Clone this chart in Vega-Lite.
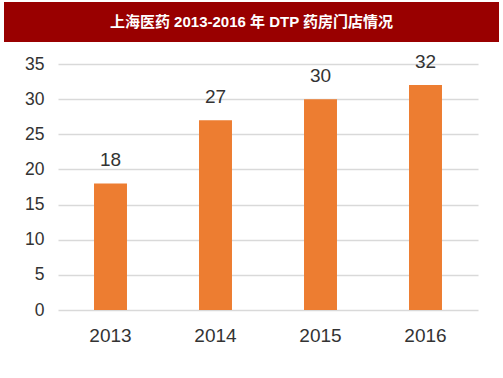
{
  "$schema": "https://vega.github.io/schema/vega-lite/v6.json",
  "padding": {"left": 4, "top": 2, "right": 4, "bottom": 5},
  "background": "white",
  "bounds": "flush",
  "spacing": 22,
  "config": {"view": {"stroke": null}, "font": "Liberation Sans"},
  "vconcat": [
    {
      "width": 495,
      "height": 40,
      "view": {"fill": "#990000", "stroke": null},
      "data": {"values": [{"t": "上海医药 2013-2016 年 DTP 药房门店情况"}]},
      "mark": {"type": "text", "color": "white", "fontSize": 15, "fontWeight": "bold", "font": "Liberation Sans, Noto Sans CJK SC", "align": "center", "baseline": "middle"},
      "encoding": {"text": {"field": "t"}}
    },
    {
      "bounds": "flush",
      "spacing": 10,
      "hconcat": [
        {
          "width": 44,
          "height": 246,
          "data": {"values": [{"t": ""}]},
          "mark": {"type": "text"},
          "encoding": {"text": {"field": "t"}}
        },
        {
          "width": 420,
          "height": 246,
          "data": {"values": [
            {"year": "2013", "stores": 18},
            {"year": "2014", "stores": 27},
            {"year": "2015", "stores": 30},
            {"year": "2016", "stores": 32}
          ]},
          "encoding": {
            "x": {"field": "year", "type": "nominal", "sort": null,
              "scale": {"paddingInner": 0.686, "paddingOuter": 0.343},
              "axis": {"title": null, "labelAngle": 0, "ticks": false, "domain": false, "labelFontSize": 19, "labelColor": "#333333", "labelPadding": 16, "labelFont": "Liberation Sans"}},
            "y": {"field": "stores", "type": "quantitative",
              "scale": {"domain": [0, 35], "nice": false},
              "axis": {"title": null, "values": [0, 5, 10, 15, 20, 25, 30, 35], "ticks": false, "domain": false, "labelFontSize": 17.5, "labelColor": "#333333", "labelPadding": 14, "gridColor": "#d9d9d9", "gridWidth": 1.5, "labelFont": "Liberation Sans"}}
          },
          "layer": [
            {"mark": {"type": "bar", "color": "#ED7D31"}},
            {"mark": {"type": "text", "fontSize": 19, "font": "Liberation Sans", "color": "#333333", "baseline": "alphabetic", "dy": -17}, "encoding": {"text": {"field": "stores"}}}
          ]
        }
      ]
    }
  ]
}
